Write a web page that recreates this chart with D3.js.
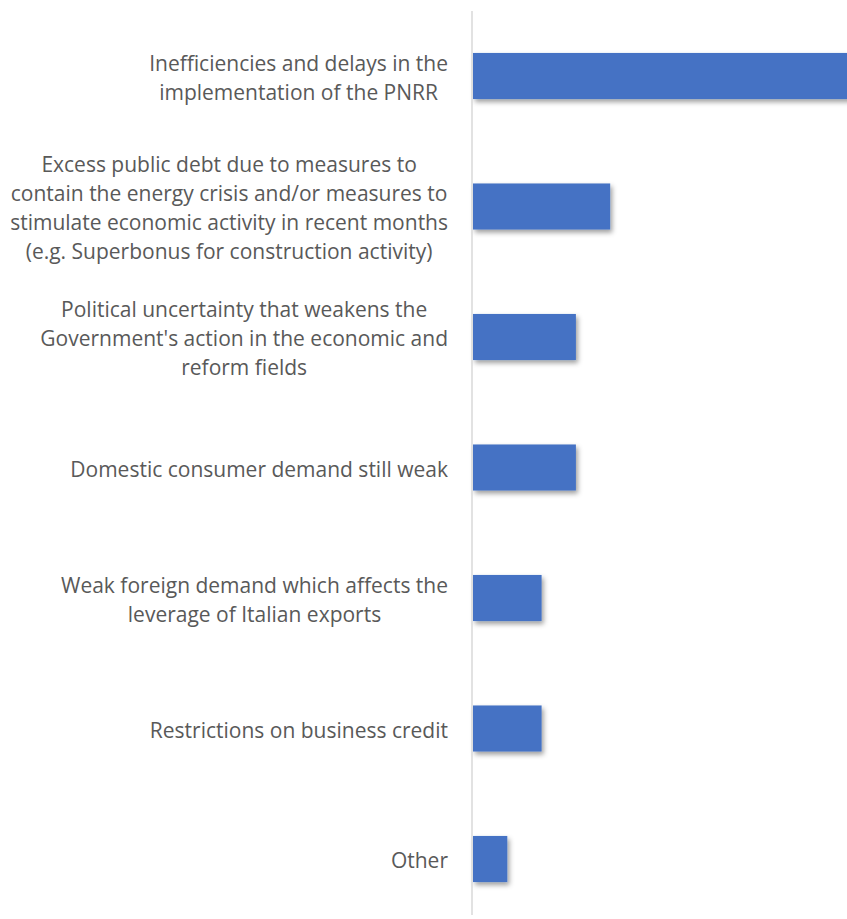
<!DOCTYPE html>
<html>
<head>
<meta charset="utf-8">
<script src="https://cdn.jsdelivr.net/npm/d3@7"></script>
<style>
  html, body { margin: 0; padding: 0; background: #ffffff; }
  svg { display: block; }
</style>
</head>
<body>
<div id="chart"></div>
<script>
// Survey answers: main obstacles to growth (wrapped category labels)
const categories = [
  "Inefficiencies and delays in the\nimplementation of the PNRR",
  "Excess public debt due to measures to\ncontain the energy crisis and/or measures to\nstimulate economic activity in recent months\n(e.g. Superbonus for construction activity)",
  "Political uncertainty that weakens the\nGovernment's action in the economic and\nreform fields",
  "Domestic consumer demand still weak",
  "Weak foreign demand which affects the\nleverage of Italian exports",
  "Restrictions on business credit",
  "Other"
];
const values = [11, 4, 3, 3, 2, 2, 1];
const xDomainMax = 11;

const width = 847, height = 919;
const axisX = 473;
const labelRight = 448;
const fontSize = 21;
const lineHeight = 29;

const svg = d3.select("#chart").append("svg")
  .attr("width", width)
  .attr("height", height);

const defs = svg.append("defs");
const shadow = defs.append("filter")
  .attr("id", "barShadow")
  .attr("x", "-20%").attr("y", "-30%")
  .attr("width", "140%").attr("height", "180%");
shadow.append("feDropShadow")
  .attr("dx", 2).attr("dy", 3)
  .attr("stdDeviation", 2.6)
  .attr("flood-color", "#000")
  .attr("flood-opacity", 0.38);

const x = d3.scaleLinear()
  .domain([0, xDomainMax])
  .range([axisX, axisX + xDomainMax * 34.3]);

const y = d3.scaleBand()
  .domain(categories)
  .range([10.75, 924.25])
  .paddingInner(0.647)
  .paddingOuter(0.3235);

// Bars
svg.append("g")
  .selectAll("rect")
  .data(categories.map((c, i) => ({ c, v: values[i] })))
  .join("rect")
  .attr("x", x(0))
  .attr("y", d => y(d.c))
  .attr("width", d => x(d.v) - x(0))
  .attr("height", y.bandwidth())
  .attr("fill", "#4472C4")
  .attr("filter", "url(#barShadow)");

// Vertical category axis line
svg.append("line")
  .attr("x1", axisX - 1).attr("x2", axisX - 1)
  .attr("y1", 11).attr("y2", 915)
  .attr("stroke", "#d9d9d9")
  .attr("stroke-width", 1.5);

// Category labels: wrapped lines, centred on each other, block right-aligned
const labels = svg.append("g")
  .attr("font-family", "'Open Sans', sans-serif")
  .attr("font-size", fontSize)
  .attr("fill", "#595959");

categories.forEach(c => {
  const lines = c.split("\n");
  const cy = y(c) + y.bandwidth() / 2 + 1;
  const t = labels.append("text")
    .attr("text-anchor", "middle")
    .attr("dominant-baseline", "central");
  const spans = lines.map((ln, j) =>
    t.append("tspan")
      .attr("y", cy + (j - (lines.length - 1) / 2) * lineHeight)
      .text(ln));
  const maxW = d3.max(spans, s => s.node().getComputedTextLength());
  spans.forEach(s => s.attr("x", labelRight - maxW / 2));
});
</script>
</body>
</html>
